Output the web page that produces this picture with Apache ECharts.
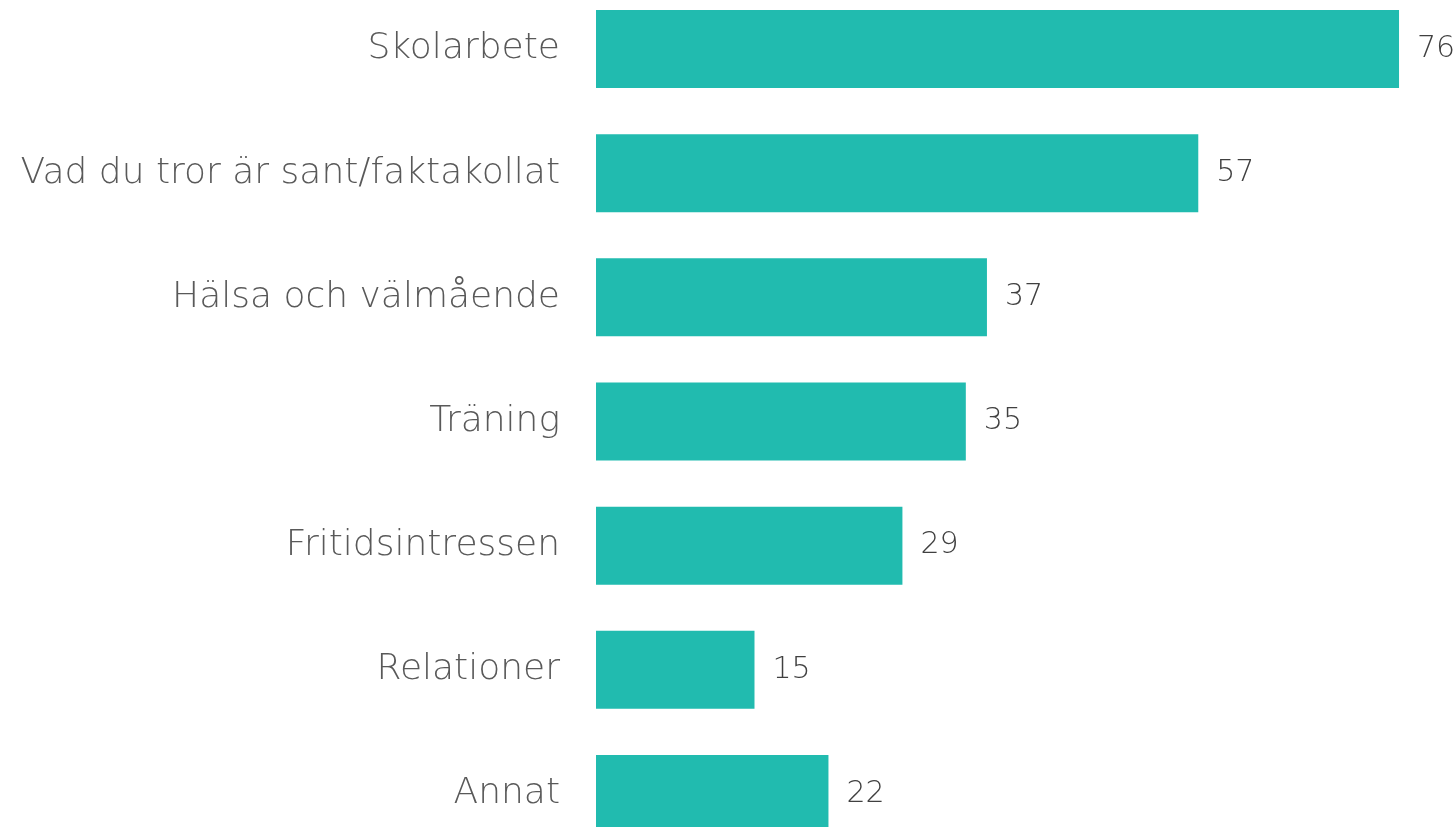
<!DOCTYPE html>
<html><head><meta charset="utf-8">
<script src="https://cdn.jsdelivr.net/npm/echarts@6/dist/echarts.min.js"></script>
<style>html,body{margin:0;padding:0;background:#fff}#c{width:1456px;height:827px}</style>
</head><body><div id="c"></div>
<script>
const categories = ["Skolarbete","Vad du tror är sant/faktakollat","Hälsa och välmående","Träning","Fritidsintressen","Relationer","Annat"];
const values = [76,57,37,35,29,15,22];

const chart = echarts.init(document.getElementById('c'));
chart.setOption({
  animation:false,
  grid:{left:596, top:-13.1, width:845.3, height:869.2, containLabel:false, outerBoundsMode:'none'},
  xAxis:{type:'value', min:0, max:80, show:false},
  yAxis:{type:'category', data:categories, inverse:true,
    axisLine:{show:false}, axisTick:{show:false},
    axisLabel:{margin:36, color:'#595959', fontSize:36, fontFamily:'DejaVu Sans', fontWeight:300}},
  series:[{type:'bar', data:values, barWidth:78,
    itemStyle:{color:'#21BBAF'},
    label:{show:true, position:'right', distance:18, color:'#404040', fontSize:30, fontFamily:'DejaVu Sans', fontWeight:300}}]
});
</script></body></html>
